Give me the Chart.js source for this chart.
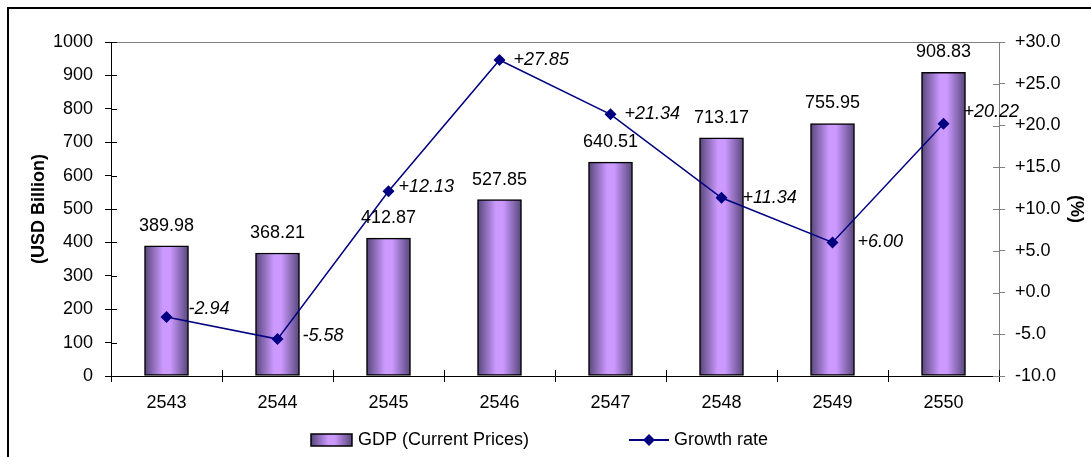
<!DOCTYPE html>
<html>
<head>
<meta charset="utf-8">
<script src="https://cdn.jsdelivr.net/npm/chart.js@4"></script>
<style>
  html, body { margin: 0; padding: 0; background: #fff; }
  #wrap { width: 1091px; height: 457px; }
</style>
</head>
<body>
<div id="wrap"><canvas id="gdp-chart" width="1091" height="457"></canvas></div>
<script>
var years = ['2543', '2544', '2545', '2546', '2547', '2548', '2549', '2550'];
var gdpValues = [389.98, 368.21, 412.87, 527.85, 640.51, 713.17, 755.95, 908.83];
var growthValues = [-2.94, -5.58, 12.13, 27.85, 21.34, 11.34, 6.00, 20.22];

var FONT = 'Liberation Sans, Arial, sans-serif';
var NAVY = '#000080';
var BAR_W = 44;

// label nudges for the growth figures, [dx, dy] from each diamond
var growthLabelShift = [[22, -8], [25, -3], [10, -4], [14, 0], [14, 0], [21, 0], [25, 0], [20, -12]];

function barGradient(ctx, x0, x1) {
    var g = ctx.createLinearGradient(x0, 0, x1, 0);
    g.addColorStop(0, '#56467a');
    g.addColorStop(0.42, '#cc99ff');
    g.addColorStop(0.58, '#cc99ff');
    g.addColorStop(1, '#56467a');
    return g;
}

function fmtGrowth(v) {
    return (v >= 0 ? '+' : '') + v.toFixed(2);
}

var decorations = {
    id: 'decorations',
    afterDraw: function(chart) {
        var ctx = chart.ctx;
        var area = chart.chartArea;
        var xs = chart.scales.x, ys = chart.scales.y, rs = chart.scales.y1;
        ctx.save();

        // outer frame
        ctx.strokeStyle = '#000';
        ctx.lineWidth = 2;
        ctx.strokeRect(8, 8, 1200, 1200);

        // grey top edge of the plot
        ctx.lineWidth = 1;
        ctx.strokeStyle = '#808080';
        ctx.beginPath();
        ctx.moveTo(area.left, area.top + 0.5);
        ctx.lineTo(area.right, area.top + 0.5);
        ctx.stroke();

        // inner halves of the tick marks
        ctx.strokeStyle = '#000';
        ctx.beginPath();
        ys.ticks.forEach(function(t) {
            var y = Math.round(ys.getPixelForValue(t.value)) + 0.5;
            ctx.moveTo(area.left, y);
            ctx.lineTo(area.left + 6, y);
        });
        for (var i = 0; i <= years.length; i++) {
            var x = Math.round(xs.getPixelForValue(i - 0.5)) + 0.5;
            ctx.moveTo(x, area.bottom);
            ctx.lineTo(x, area.bottom - 6);
        }
        ctx.stroke();
        ctx.strokeStyle = '#808080';
        ctx.beginPath();
        rs.ticks.forEach(function(t) {
            var y = Math.round(rs.getPixelForValue(t.value)) + 0.5;
            ctx.moveTo(area.right - 6, y);
            ctx.lineTo(area.right, y);
        });
        ctx.stroke();

        // value labels
        ctx.fillStyle = '#000';
        ctx.font = '18px ' + FONT;
        ctx.textAlign = 'center';
        ctx.textBaseline = 'middle';
        chart.getDatasetMeta(0).data.forEach(function(bar, i) {
            ctx.fillText(gdpValues[i].toFixed(2), bar.x, bar.y - 20);
        });
        ctx.font = 'italic 18px ' + FONT;
        ctx.textAlign = 'left';
        chart.getDatasetMeta(1).data.forEach(function(pt, i) {
            var s = growthLabelShift[i];
            ctx.fillText(fmtGrowth(growthValues[i]), pt.x + s[0], pt.y + s[1]);
        });

        // legend
        var ly = 440;
        ctx.font = '18px ' + FONT;
        ctx.fillStyle = barGradient(ctx, 311, 352);
        ctx.fillRect(311, ly - 6, 41, 12);
        ctx.strokeStyle = '#000';
        ctx.lineWidth = 1.5;
        ctx.strokeRect(311, ly - 6, 41, 12);
        ctx.fillStyle = '#000';
        ctx.fillText(chart.data.datasets[0].label, 358, ly);

        ctx.strokeStyle = NAVY;
        ctx.lineWidth = 2;
        ctx.beginPath();
        ctx.moveTo(629, ly);
        ctx.lineTo(669, ly);
        ctx.stroke();
        ctx.fillStyle = NAVY;
        ctx.beginPath();
        ctx.moveTo(649, ly - 6);
        ctx.lineTo(655, ly);
        ctx.lineTo(649, ly + 6);
        ctx.lineTo(643, ly);
        ctx.closePath();
        ctx.fill();
        ctx.fillStyle = '#000';
        ctx.fillText(chart.data.datasets[1].label, 674, ly);

        ctx.restore();
    }
};

var ctx = document.getElementById('gdp-chart');
var gdpChart = new Chart(ctx, {
    data: {
        labels: years,
        datasets: [
            {
                type: 'bar',
                label: 'GDP (Current Prices)',
                data: gdpValues,
                yAxisID: 'y',
                barThickness: BAR_W,
                borderColor: '#000',
                borderWidth: 1.5,
                borderSkipped: false,
                backgroundColor: function(c) {
                    var chart = c.chart;
                    if (!chart.chartArea || c.dataIndex === undefined) return '#cc99ff';
                    var cx = chart.scales.x.getPixelForValue(c.dataIndex);
                    return barGradient(chart.ctx, cx - BAR_W / 2, cx + BAR_W / 2);
                },
                order: 1
            },
            {
                type: 'line',
                label: 'Growth rate',
                data: growthValues,
                yAxisID: 'y1',
                borderColor: NAVY,
                borderWidth: 1.5,
                backgroundColor: NAVY,
                pointStyle: 'rectRot',
                pointRadius: 6,
                pointBorderWidth: 0,
                tension: 0,
                order: 0
            }
        ]
    },
    options: {
        responsive: false,
        animation: false,
        layout: { padding: { top: 42, left: 0, right: 0, bottom: 0 } },
        plugins: { legend: { display: false }, tooltip: { enabled: false } },
        scales: {
            x: {
                offset: true,
                afterFit: function(s) { s.height = 81; },
                grid: { offset: true, drawOnChartArea: false, color: '#000', tickLength: 6 },
                border: { color: '#000', width: 1 },
                ticks: { color: '#000', font: { family: FONT, size: 18 }, padding: 10 }
            },
            y: {
                position: 'left',
                min: 0,
                max: 1000,
                afterFit: function(s) { s.width = 111; },
                grid: { drawOnChartArea: false, color: '#000', tickLength: 6 },
                border: { color: '#000', width: 1 },
                ticks: {
                    stepSize: 100,
                    color: '#000',
                    font: { family: FONT, size: 18 },
                    padding: 12,
                    callback: function(v) { return String(v); }
                },
                title: {
                    display: true,
                    text: '(USD Billion)',
                    color: '#000',
                    font: { family: FONT, size: 18, weight: 'bold' },
                    padding: { top: 28, bottom: 0 }
                }
            },
            y1: {
                position: 'right',
                min: -10,
                max: 30,
                afterFit: function(s) { s.width = 92; },
                grid: { drawOnChartArea: false, color: '#808080', tickLength: 6 },
                border: { color: '#808080', width: 1 },
                ticks: {
                    stepSize: 5,
                    color: '#000',
                    font: { family: FONT, size: 18 },
                    padding: 10,
                    callback: function(v) { return (v >= 0 ? '+' : '') + v.toFixed(1); }
                },
                title: {
                    display: true,
                    text: '(%)',
                    color: '#000',
                    font: { family: FONT, size: 18, weight: 'bold' },
                    padding: { top: 4, bottom: 0 }
                }
            }
        }
    },
    plugins: [decorations]
});
</script>
</body>
</html>
